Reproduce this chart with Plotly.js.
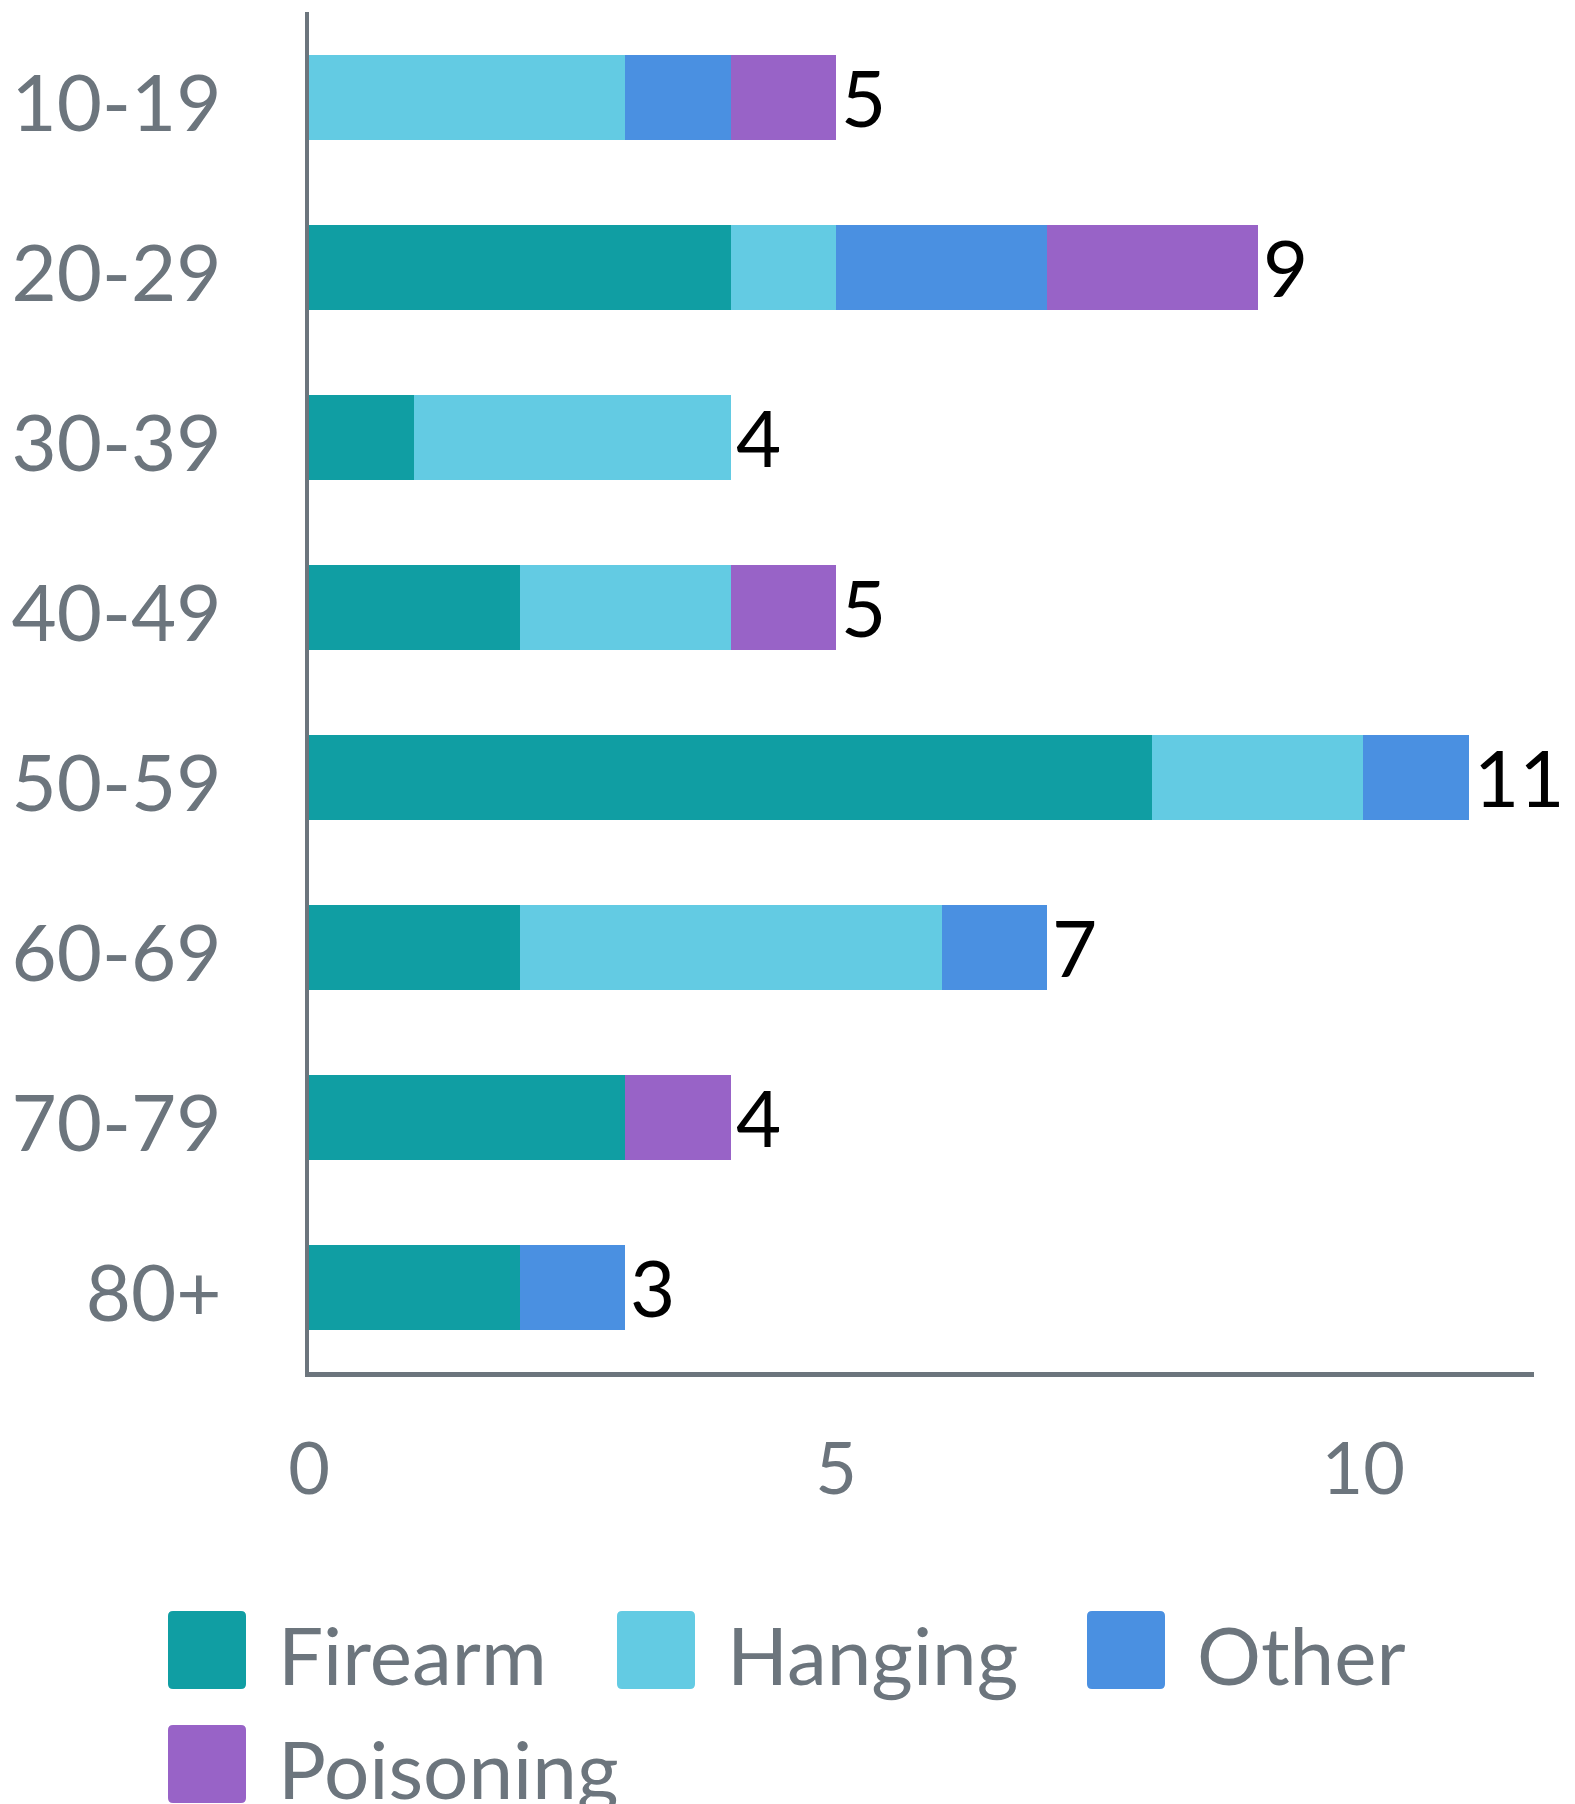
<!DOCTYPE html>
<html>
<head>
<meta charset="utf-8">
<script src="https://cdn.plot.ly/plotly-3.0.1.min.js"></script>
<style>html,body{margin:0;padding:0;background:#fff;}#chart{width:1575px;height:1804px;}</style>
</head>
<body>
<div id="chart"></div>
<script>
// ---- data ----
const categories = ['10-19', '20-29', '30-39', '40-49', '50-59', '60-69', '70-79', '80+'];
const seriesNames = ['Firearm', 'Hanging', 'Other', 'Poisoning'];
const firearm   = [0, 4, 1, 2, 8, 2, 3, 2];
const hanging   = [3, 1, 3, 2, 2, 4, 0, 0];
const other     = [1, 2, 0, 0, 1, 1, 0, 1];
const poisoning = [1, 2, 0, 1, 0, 0, 1, 0];
const xTickVals = [0, 5, 10];
const xTickText = ['0', '5', '10'];

// ---- styles ----
const colors = ['#109ea3', '#63cbe3', '#4a90e1', '#9863c7'];
const gray = '#6c757d';
const W = 1575, H = 1804;
const M = {l: 309, r: 41, t: 12, b: 432};
const plotW = W - M.l - M.r, plotH = H - M.t - M.b;
const px2x = px => (px - M.l) / plotW;
const py2y = py => (H - M.b - py) / plotH;

const values = [firearm, hanging, other, poisoning];
const traces = seriesNames.map((name, i) => ({
  type: 'bar', orientation: 'h', name: name,
  y: categories, x: values[i],
  marker: {color: colors[i], line: {width: 0}},
  hoverinfo: 'skip', showlegend: false
}));

const totals = categories.map((c, j) => values.reduce((s, arr) => s + arr[j], 0));

const annotations = categories.map((c, j) => ({
  xref: 'x', yref: 'y', x: totals[j], y: c,
  text: String(totals[j]), showarrow: false,
  xanchor: 'left', yanchor: 'middle', xshift: 3, yshift: 0,
  font: {family: 'Lato', size: 78, color: '#000'}
}));

// manual legend (large rounded swatches)
const legendPos = [
  {sx: 168, sy: 1611},
  {sx: 617, sy: 1611},
  {sx: 1087, sy: 1611},
  {sx: 168, sy: 1725}
];
const sw = 78, rad = 5;
function roundRect(x0, y0, w, h, r) {
  const X = v => px2x(v), Y = v => py2y(v);
  const x1 = x0 + w, y1 = y0 + h;
  return 'M' + X(x0 + r) + ',' + Y(y0) +
    ' L' + X(x1 - r) + ',' + Y(y0) + ' Q' + X(x1) + ',' + Y(y0) + ' ' + X(x1) + ',' + Y(y0 + r) +
    ' L' + X(x1) + ',' + Y(y1 - r) + ' Q' + X(x1) + ',' + Y(y1) + ' ' + X(x1 - r) + ',' + Y(y1) +
    ' L' + X(x0 + r) + ',' + Y(y1) + ' Q' + X(x0) + ',' + Y(y1) + ' ' + X(x0) + ',' + Y(y1 - r) +
    ' L' + X(x0) + ',' + Y(y0 + r) + ' Q' + X(x0) + ',' + Y(y0) + ' ' + X(x0 + r) + ',' + Y(y0) + ' Z';
}
const shapes = seriesNames.map((n, i) => ({
  type: 'path', xref: 'paper', yref: 'paper',
  path: roundRect(legendPos[i].sx, legendPos[i].sy, sw, sw, rad),
  fillcolor: colors[i], line: {width: 0}
}));
seriesNames.forEach((n, i) => {
  annotations.push({
    xref: 'paper', yref: 'paper',
    x: px2x(legendPos[i].sx + sw + 30), y: py2y(legendPos[i].sy + sw / 2),
    text: n, showarrow: false, xanchor: 'left', yanchor: 'middle', yshift: -4,
    font: {family: 'Lato', size: 80, color: gray}
  });
});

const layout = {
  width: W, height: H,
  margin: M,
  paper_bgcolor: '#fff', plot_bgcolor: '#fff',
  barmode: 'stack', bargap: 0.5,
  showlegend: false,
  font: {family: 'Lato', color: gray},
  xaxis: {
    range: [0, 11.62], tickvals: xTickVals, ticktext: xTickText,
    showgrid: false, zeroline: false, showline: true, linecolor: gray, linewidth: 5,
    ticks: '', ticklabelstandoff: 31,
    tickfont: {family: 'Lato', size: 72, color: gray}
  },
  yaxis: {
    type: 'category', categoryorder: 'array', categoryarray: categories,
    range: [categories.length - 0.5, -0.5],
    showgrid: false, zeroline: false, showline: true, linecolor: gray, linewidth: 4,
    ticks: '', ticklabelstandoff: 68, ticklabelshift: -7,
    tickfont: {family: 'Lato', size: 78, color: gray}
  },
  annotations: annotations,
  shapes: shapes
};

Plotly.newPlot('chart', traces, layout, {staticPlot: true, displayModeBar: false});
</script>
</body>
</html>
